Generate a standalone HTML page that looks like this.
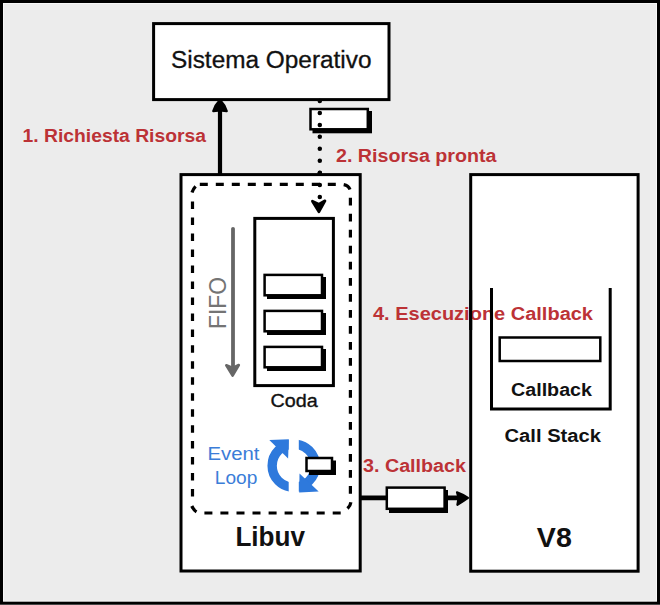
<!DOCTYPE html>
<html><head><meta charset="utf-8">
<style>
html,body{margin:0;padding:0;background:#ececec;width:660px;height:605px;overflow:hidden}
svg{display:block;position:absolute;left:0;top:0}
text{font-family:"Liberation Sans",sans-serif}
.r{fill:#bc3236;font-weight:bold}
.k{fill:#111;font-weight:bold}
</style></head><body>
<svg width="660" height="605" viewBox="0 0 660 605">
<defs>
<clipPath id="cl"><rect x="0" y="0" width="288.7" height="605"/></clipPath>
<clipPath id="cr"><rect x="298.8" y="0" width="400" height="605"/></clipPath>
</defs>
<rect x="0" y="0" width="660" height="605" fill="#ececec"/>
<rect x="3.5" y="3.5" width="653" height="597.6" fill="none" stroke="#f7f7f7" stroke-width="1"/>
<rect x="1.5" y="1.5" width="657" height="601.7" fill="none" stroke="#000" stroke-width="3"/>

<!-- Sistema Operativo -->
<rect x="153.6" y="23.6" width="235.4" height="76" fill="#fff" stroke="#000" stroke-width="3"/>
<text x="171" y="68.3" font-size="23" fill="#111" stroke="#111" stroke-width="0.3" textLength="200.5" lengthAdjust="spacingAndGlyphs">Sistema Operativo</text>

<!-- arrow 1 up -->
<line x1="220" y1="175" x2="220" y2="106" stroke="#000" stroke-width="4.2"/>
<path d="M218.6,102 L221.4,102 Q225,105.5 226.6,111 L222,110.4 L218,110.4 L213.4,111 Q215,105.5 218.6,102 Z" fill="#000" stroke="#000" stroke-width="2.5" stroke-linejoin="round"/>
<text class="r" x="22.5" y="142.3" font-size="17.5" textLength="183.5" lengthAdjust="spacingAndGlyphs">1. Richiesta Risorsa</text>

<!-- small rect on dotted line -->
<rect x="312.5" y="111" width="59.5" height="22.3" fill="#000"/>
<rect x="310.5" y="109" width="57.3" height="20.3" fill="#fff" stroke="#000" stroke-width="2.5"/>
<line x1="319.8" y1="101" x2="319.8" y2="198" stroke="#000" stroke-width="4.5" stroke-linecap="round" stroke-dasharray="0 11.95"/>
<text class="r" x="336" y="161.7" font-size="17.5" textLength="160.5" lengthAdjust="spacingAndGlyphs">2. Risorsa pronta</text>

<!-- Libuv box -->
<rect x="181" y="174.6" width="179.2" height="396.4" fill="#fff" stroke="#000" stroke-width="3"/>
<path d="M199.8,184.4h8 M215.8,184.4h8 M231.8,184.4h8 M247.8,184.4h8 M263.8,184.4h8 M279.8,184.4h8 M295.8,184.4h8 M311.8,184.4h8 M327.8,184.4h8 M204.4,513h8 M220.4,513h8 M236.5,513h8 M252.5,513h8 M268.6,513h8 M284.6,513h8 M300.6,513h8 M316.7,513h8 M332.7,513h8 M192.5,201.6v7.5 M192.5,217.6v7.5 M192.5,233.5v7.5 M192.5,249.5v7.5 M192.5,265.5v7.5 M192.5,281.4v7.5 M192.5,297.4v7.5 M192.5,313.4v7.5 M192.5,329.4v7.5 M192.5,345.3v7.5 M192.5,361.3v7.5 M192.5,377.3v7.5 M192.5,393.2v7.5 M192.5,409.2v7.5 M192.5,425.2v7.5 M192.5,441.1v7.5 M192.5,457.1v7.5 M192.5,473.1v7.5 M192.5,489.1v7.5 M350.4,197.8v7.8 M350.4,213.8v7.8 M350.4,229.8v7.8 M350.4,245.8v7.8 M350.4,261.8v7.8 M350.4,277.9v7.8 M350.4,293.9v7.8 M350.4,309.9v7.8 M350.4,325.9v7.8 M350.4,341.9v7.8 M350.4,357.9v7.8 M350.4,373.9v7.8 M350.4,389.9v7.8 M350.4,405.9v7.8 M350.4,421.9v7.8 M350.4,438.0v7.8 M350.4,454.0v7.8 M350.4,470.0v7.8 M350.4,486.0v7.8 M192,192.5Q193,189 195.6,186.3 M343.7,184.6Q348.5,185.5 350,189.5 M191.8,506Q193.5,510 196.5,511.8 M347.5,508.5Q350.5,505.5 350.9,502.2" fill="none" stroke="#000" stroke-width="3.2"/>
<line x1="319.8" y1="173" x2="319.8" y2="198" stroke="#000" stroke-width="4.5" stroke-linecap="round" stroke-dasharray="0 11.95"/>
<path d="M312.4,201.2 L318.9,204.2 L325,200.8 L318.9,211.8 Z" fill="#000" stroke="#000" stroke-width="2.7" stroke-linejoin="round"/>

<!-- Coda box -->
<rect x="254.8" y="218.4" width="78.6" height="167.2" fill="#fff" stroke="#000" stroke-width="3"/>
<rect x="267" y="277" width="59" height="22" fill="#000"/>
<rect x="264.6" y="274.9" width="57.4" height="20.4" fill="#fff" stroke="#000" stroke-width="2.5"/>
<rect x="267" y="313" width="59" height="22" fill="#000"/>
<rect x="264.6" y="310.9" width="57.4" height="20.4" fill="#fff" stroke="#000" stroke-width="2.5"/>
<rect x="267" y="349" width="59" height="22" fill="#000"/>
<rect x="264.6" y="346.9" width="57.4" height="20.4" fill="#fff" stroke="#000" stroke-width="2.5"/>
<text x="270.6" y="407.1" font-size="18" fill="#111" stroke="#111" stroke-width="0.35" textLength="47.2" lengthAdjust="spacingAndGlyphs">Coda</text>

<!-- FIFO -->
<line x1="233" y1="228.8" x2="233" y2="368" stroke="#666" stroke-width="3.8" stroke-linecap="round"/>
<path d="M226.3,365.3 L232.8,368 L238.8,365 L232.6,375.6 Z" fill="#666" stroke="#666" stroke-width="2.6" stroke-linejoin="round"/>
<text transform="translate(226,329) rotate(-90)" x="0" y="0" font-size="24" fill="#747474" textLength="52" lengthAdjust="spacingAndGlyphs">FIFO</text>

<!-- Event loop -->
<text x="207.5" y="459.6" font-size="17.5" fill="#3b7dd8" textLength="52" lengthAdjust="spacingAndGlyphs">Event</text>
<text x="214.8" y="484.2" font-size="17.5" fill="#3b7dd8" textLength="42.5" lengthAdjust="spacingAndGlyphs">Loop</text>
<g fill="#2e79dc">
  <circle cx="293.75" cy="465.7" r="21.6" fill="none" stroke="#2e79dc" stroke-width="9.4" clip-path="url(#cl)"/>
  <circle cx="293.75" cy="465.7" r="21.6" fill="none" stroke="#2e79dc" stroke-width="9.4" clip-path="url(#cr)"/>
  <path d="M269.3,440 L288.8,439.3 L288.1,458.5 Z"/>
  <path d="M299.5,473.5 L299.2,492.4 L318.7,491.4 Z"/>
</g>
<rect x="309" y="460.5" width="27" height="14.5" fill="#000"/>
<rect x="306.5" y="458" width="25.5" height="13" fill="#fff" stroke="#000" stroke-width="2.5"/>

<text class="k" x="235.4" y="546.3" font-size="27" textLength="69.6" lengthAdjust="spacingAndGlyphs">Libuv</text>

<!-- arrow 3 -->
<line x1="360" y1="497.9" x2="462" y2="497.9" stroke="#000" stroke-width="4.8"/>
<path d="M457,492.3 Q463,494.5 468,497.9 Q463,501.5 457.4,504.8 L458.6,497.9 Z" fill="#000" stroke="#000" stroke-width="2.2" stroke-linejoin="round"/>
<rect x="389" y="490" width="59" height="23" fill="#000"/>
<rect x="386.8" y="487.6" width="57.8" height="21.2" fill="#fff" stroke="#000" stroke-width="2.5"/>
<text class="r" x="363" y="471.6" font-size="17.5" textLength="103" lengthAdjust="spacingAndGlyphs">3. Callback</text>

<!-- V8 box -->
<rect x="470.7" y="174.6" width="167.4" height="396.6" fill="#fff" stroke="#000" stroke-width="3"/>
<text class="r" x="373" y="319.5" font-size="17.5" textLength="220" lengthAdjust="spacingAndGlyphs">4. Esecuzione Callback</text>
<line x1="470.7" y1="290" x2="470.7" y2="330" stroke="#000" stroke-width="3"/>
<polyline points="491.5,288 491.5,409 610.2,409 610.2,288" fill="none" stroke="#000" stroke-width="3"/>
<rect x="499.7" y="337.5" width="100.6" height="23.5" fill="#fff" stroke="#000" stroke-width="2.5"/>
<text class="k" x="511" y="396" font-size="17.5" textLength="81" lengthAdjust="spacingAndGlyphs">Callback</text>
<text class="k" x="504.5" y="441.8" font-size="17.5" textLength="96.5" lengthAdjust="spacingAndGlyphs">Call Stack</text>
<text class="k" x="536.8" y="546.5" font-size="27" textLength="35" lengthAdjust="spacingAndGlyphs">V8</text>
</svg>
</body></html>
